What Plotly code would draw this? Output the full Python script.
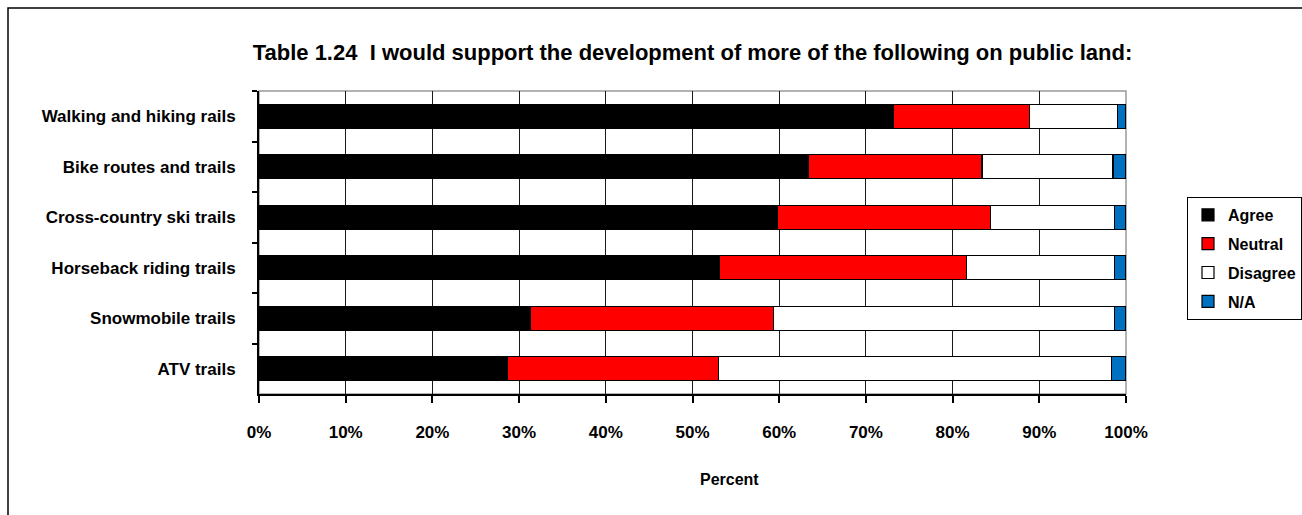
import plotly.graph_objects as go

categories = [
    "Walking and hiking rails",
    "Bike routes and trails",
    "Cross-country ski trails",
    "Horseback riding trails",
    "Snowmobile trails",
    "ATV trails",
]
agree = [73.2, 63.4, 59.8, 53.1, 31.3, 28.6]
neutral = [15.7, 20.0, 24.6, 28.5, 28.0, 24.4]
disagree = [10.1, 15.1, 14.3, 17.1, 39.4, 45.3]
not_applicable = [1.0, 1.5, 1.3, 1.3, 1.3, 1.7]

series = [
    ("Agree", agree, "#000000"),
    ("Neutral", neutral, "#FF0000"),
    ("Disagree", disagree, "#FFFFFF"),
    ("N/A", not_applicable, "#0070C0"),
]

FONT = "Liberation Sans, Arial, sans-serif"

W, H = 1302, 515
ML, MR, MT, MB = 259, 176, 91, 121
PW, PH = W - ML - MR, H - MT - MB

fig = go.Figure()
for name, vals, color in series:
    fig.add_trace(go.Bar(
        y=categories, x=vals, name=name, orientation="h",
        marker=dict(color=color, line=dict(color="#000000", width=1.2)),
        width=0.475, legendgroup=name,
    ))


def px_x(p):
    return (p - ML) / PW


def px_y(p):
    return (H - MB - p) / PH


fig.update_layout(
    width=W, height=H,
    margin=dict(l=ML, r=MR, t=MT, b=MB, autoexpand=False),
    barmode="stack",
    plot_bgcolor="#FFFFFF", paper_bgcolor="#FFFFFF",
    font=dict(family=FONT, size=14, color="#000000"),
    title=dict(
        text="<b>Table 1.24  I would support the development of more of the following on public land:</b>",
        x=0.5, xref="paper", xanchor="center",
        y=1 - 52 / H, yref="container", yanchor="middle",
        font=dict(family=FONT, size=22, color="#000000"),
    ),
    xaxis=dict(
        range=[0, 100], dtick=10, tick0=0,
        ticksuffix="%", tickformat="d",
        showgrid=True, gridcolor="#1a1a1a", gridwidth=1,
        showline=True, linecolor="#000000", linewidth=2,
        ticks="outside", ticklen=7, tickcolor="#000000", tickwidth=1.5,
        ticklabelstandoff=15,
        tickfont=dict(family=FONT, size=17, color="#000000", weight="bold"),
        zeroline=False, fixedrange=True, automargin=False,
    ),
    yaxis=dict(
        categoryorder="array", categoryarray=categories,
        autorange="reversed",
        showgrid=False,
        showline=True, linecolor="#000000", linewidth=2,
        ticks="outside", tickson="boundaries", ticklen=5,
        tickcolor="#000000", tickwidth=1.5,
        ticklabelstandoff=18,
        tickfont=dict(family=FONT, size=17, color="#000000", weight="bold"),
        fixedrange=True, automargin=False,
    ),
    legend=dict(
        x=px_x(1187), y=px_y(197), xanchor="left", yanchor="top",
        bordercolor="#000000", borderwidth=1, bgcolor="#FFFFFF",
        font=dict(family=FONT, size=16, color="#000000", weight="bold"),
        traceorder="grouped", tracegroupgap=5, itemwidth=30,
    ),
    annotations=[
        dict(text="<b>Percent</b>", xref="paper", yref="paper",
             x=px_x(729), y=px_y(479), xanchor="center", yanchor="middle",
             showarrow=False, font=dict(family=FONT, size=16, color="#000000")),
    ],
    shapes=[
        # light frame on the top and right of the plotting area
        dict(type="rect", xref="paper", yref="paper", x0=0, x1=1, y0=0, y1=1,
             line=dict(color="#9a9a9a", width=1.5), layer="below"),
        # outer chart frame
        dict(type="rect", xref="paper", yref="paper",
             x0=px_x(8), x1=px_x(W + 20), y0=px_y(H + 20), y1=px_y(8),
             line=dict(color="#000000", width=1.5), fillcolor="rgba(0,0,0,0)"),
    ],
)

fig.write_html("out.html")
